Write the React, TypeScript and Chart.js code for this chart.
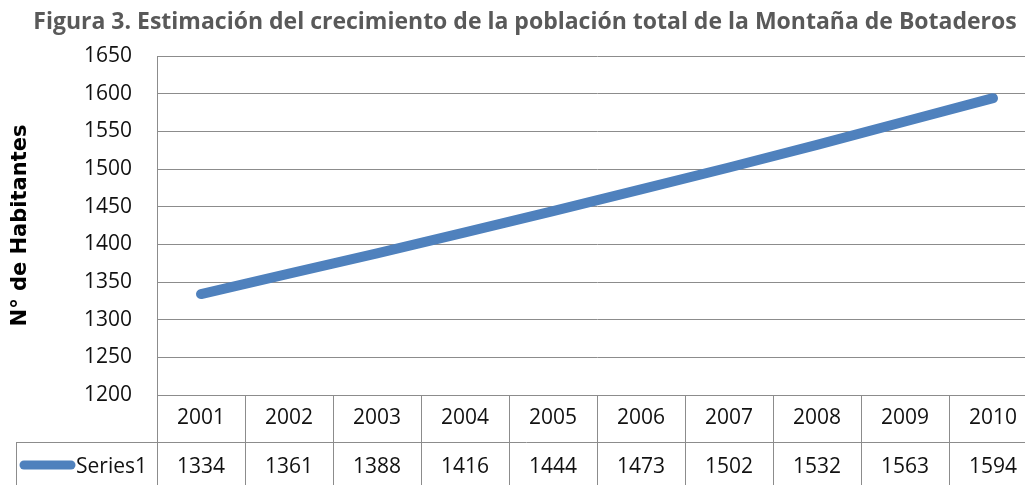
import React, { useEffect, useRef } from "react";
import { Chart, registerables } from "chart.js";

Chart.register(...registerables);

const TITLE = "Figura 3. Estimación del crecimiento de la población total de la Montaña de Botaderos";
const Y_TITLE = "N° de Habitantes";
const SERIES_NAME = "Series1";
const YEARS = ["2001", "2002", "2003", "2004", "2005", "2006", "2007", "2008", "2009", "2010"];
const POPULATION = [1334, 1361, 1388, 1416, 1444, 1473, 1502, 1532, 1563, 1594];
const Y_MIN = 1200;
const Y_MAX = 1650;
const Y_STEP = 50;

const LINE_COLOR = "#4F81BD";
const GRID_COLOR = "#8c8c8c";
const TEXT_FONT = "'Open Sans', sans-serif";

const titlePlugin = {
  id: "pageTitle",
  afterDraw(chart: any) {
    const ctx = chart.ctx;
    ctx.save();
    ctx.fillStyle = "#595959";
    ctx.font = `bold 23px ${TEXT_FONT}`;
    ctx.textAlign = "center";
    ctx.textBaseline = "middle";
    ctx.fillText(TITLE, 525, 22);
    ctx.restore();
  },
};

const tablePlugin = {
  id: "dataTable",
  afterDraw(chart: any) {
    const ctx = chart.ctx;
    const x = chart.scales.x;
    const area = chart.chartArea;
    const bottom = chart.height;
    const step = x.getPixelForValue(1) - x.getPixelForValue(0);
    const rowSplit = area.bottom + 47;
    const legendLeft = 16;
    ctx.save();
    ctx.strokeStyle = GRID_COLOR;
    ctx.lineWidth = 1;
    const crisp = (v: number) => Math.round(v) + 0.5;
    ctx.beginPath();
    ctx.moveTo(crisp(area.left), area.bottom);
    ctx.lineTo(crisp(area.left), bottom);
    ctx.moveTo(legendLeft, crisp(rowSplit));
    ctx.lineTo(area.right, crisp(rowSplit));
    ctx.moveTo(crisp(legendLeft), crisp(rowSplit));
    ctx.lineTo(crisp(legendLeft), bottom);
    for (let i = 1; i < YEARS.length; i++) {
      const bx = x.getPixelForValue(i) - step / 2;
      ctx.moveTo(crisp(bx), area.bottom);
      ctx.lineTo(crisp(bx), bottom);
    }
    ctx.stroke();

    ctx.fillStyle = "#111";
    ctx.font = `21px ${TEXT_FONT}`;
    ctx.textAlign = "center";
    ctx.textBaseline = "middle";
    const yearY = (area.bottom + rowSplit) / 2;
    const valY = rowSplit + 25;
    YEARS.forEach((yr, i) => {
      const cx = x.getPixelForValue(i);
      ctx.fillText(yr, cx, yearY);
      ctx.fillText(String(POPULATION[i]), cx, valY);
    });
    ctx.textAlign = "right";
    ctx.fillText(SERIES_NAME, area.left - 10, valY);
    ctx.strokeStyle = LINE_COLOR;
    ctx.lineWidth = 9;
    ctx.lineCap = "round";
    ctx.beginPath();
    ctx.moveTo(24, valY - 2);
    ctx.lineTo(71, valY - 2);
    ctx.stroke();
    ctx.restore();
  },
};

export default function App() {
  const ref = useRef<HTMLCanvasElement>(null);
  useEffect(() => {
    document.body.style.margin = "0";
    const chart = new Chart(ref.current as HTMLCanvasElement, {
      type: "line",
      data: {
        labels: YEARS,
        datasets: [
          {
            label: SERIES_NAME,
            data: POPULATION,
            borderColor: LINE_COLOR,
            backgroundColor: LINE_COLOR,
            borderWidth: 10,
            borderCapStyle: "round",
            borderJoinStyle: "round",
            pointRadius: 0,
            tension: 0,
          },
        ],
      },
      options: {
        animation: false,
        responsive: false,
        layout: { padding: { left: 0, right: 13, top: 56, bottom: 0 } },
        plugins: {
          legend: { display: false },
          tooltip: { enabled: false },
          title: { display: false },
        },
        scales: {
          x: {
            type: "category",
            offset: true,
            grid: { display: false, offset: true },
            border: { display: false },
            ticks: { display: false },
            afterFit: (s: any) => {
              s.height = 90;
            },
          },
          y: {
            min: Y_MIN,
            max: Y_MAX,
            ticks: {
              stepSize: Y_STEP,
              color: "#111",
              padding: 25,
              font: { family: TEXT_FONT, size: 21 },
              callback: (v: any) => String(v),
            },
            grid: { color: GRID_COLOR, drawTicks: false, lineWidth: 1 },
            border: { display: true, color: GRID_COLOR },
            title: {
              display: true,
              text: Y_TITLE,
              color: "#000",
              font: { family: "'DejaVu Sans', sans-serif", size: 21, weight: "bold" },
              padding: { top: 8, bottom: 0 },
            },
            afterFit: (s: any) => {
              s.width = 157;
            },
          },
        },
      },
      plugins: [tablePlugin, titlePlugin],
    });
    return () => chart.destroy();
  }, []);
  return (
    <div style={{ width: 1025, height: 485, overflow: "hidden" }}>
      <canvas ref={ref} width={1050} height={485} style={{ display: "block" }} />
    </div>
  );
}
